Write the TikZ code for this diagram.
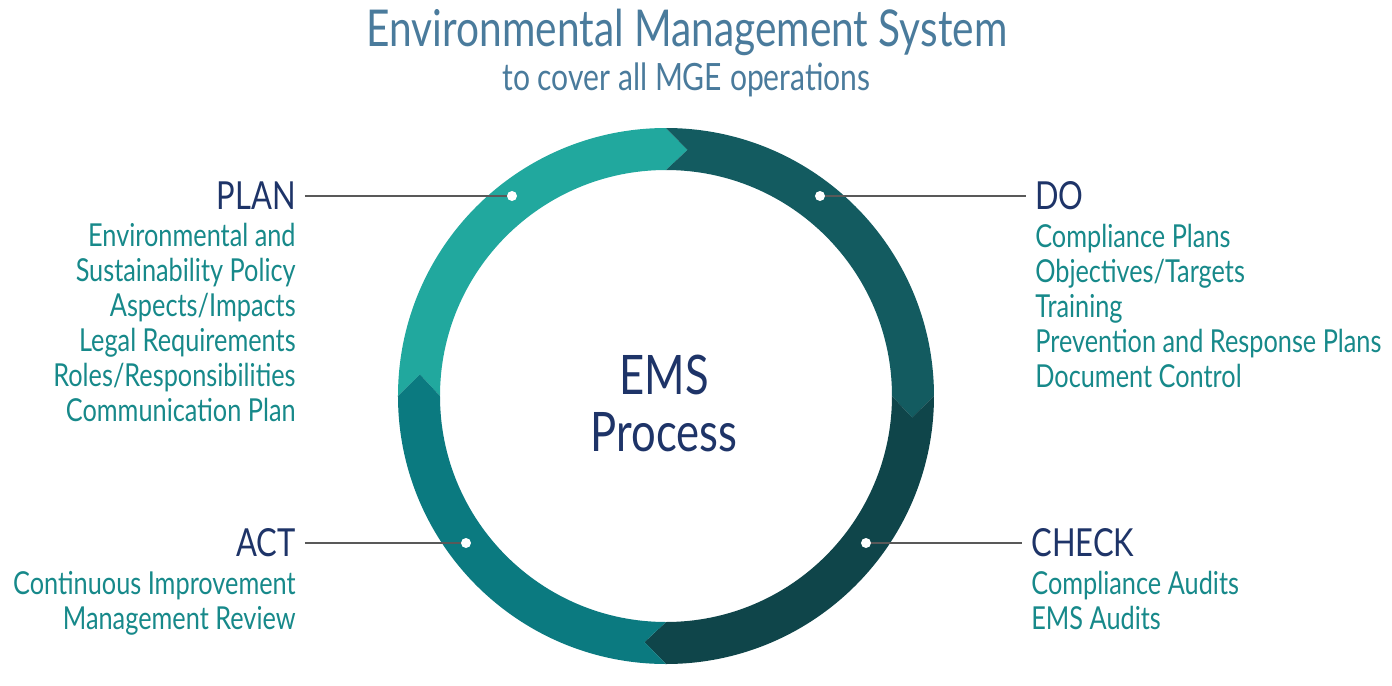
\documentclass[tikz,border=0pt]{standalone}
\usepackage{fontspec}
\setmainfont[FakeStretch=0.8]{Lato}
\usepackage{tikz}
\usetikzlibrary{positioning, calc}
\definecolor{ringplan}{RGB}{33,168,158}
\definecolor{ringdo}{RGB}{19,91,96}
\definecolor{ringcheck}{RGB}{15,69,74}
\definecolor{ringact}{RGB}{11,122,128}
\definecolor{titleblue}{RGB}{74,123,156}
\definecolor{navyems}{RGB}{30,52,104}
\definecolor{tealtext}{RGB}{23,137,138}
\def\rOut{5.36}
\def\rIn{4.52}
\def\rMid{4.94}

\begin{document}
\begin{tikzpicture}[
        head/.style={font=\fontsize{22}{24}\selectfont, text=navyems,
                     inner xsep=0.18cm, inner ysep=0pt},
        items/.style={font=\fontsize{18}{19.92}\selectfont, text=tealtext,
                      inner xsep=0.18cm, inner ysep=0pt},
        dot/.style={circle, fill=white, inner sep=0pt, minimum size=0.2cm},
        leader/.style={draw=black!65, line width=0.6pt}]

      \useasboundingbox (-13.32,-5.78) rectangle (14.52,7.92);

      % title
      \node[font=\fontsize{28.9}{30}\selectfont, text=titleblue, anchor=base]
            (title) at (0.42,7.0) {Environmental Management System};
      \node[font=\fontsize{21.4}{22}\selectfont, text=titleblue, anchor=base]
            (subtitle) at (0.41,6.12) {to cover all MGE operations};

      % ring, four arrows
      \fill[ringplan]  (180:\rOut) arc (180:90:\rOut) -- (85:\rMid)
                       -- (90:\rIn) arc (90:180:\rIn) -- (175:\rMid) -- cycle;
      \fill[ringdo]    (90:\rOut) arc (90:0:\rOut) -- (-5:\rMid)
                       -- (0:\rIn) arc (0:90:\rIn) -- (85:\rMid) -- cycle;
      \fill[ringcheck] (0:\rOut) arc (0:-90:\rOut) -- (-95:\rMid)
                       -- (-90:\rIn) arc (-90:0:\rIn) -- (-5:\rMid) -- cycle;
      \fill[ringact]   (-90:\rOut) arc (-90:-180:\rOut) -- (-185:\rMid)
                       -- (-180:\rIn) arc (-180:-90:\rIn) -- (-95:\rMid) -- cycle;

      \node[font=\fontsize{31}{32.4}\selectfont, text=navyems, align=center]
            (ems) at (-0.04,-0.15) {EMS\\Process};

      \node[dot] (plandot)  at (-3.08,4.0) {};
      \node[dot] (dodot)    at (3.08,4.0) {};
      \node[dot] (checkdot) at (4.0,-2.94) {};
      \node[dot] (actdot)   at (-4.0,-2.94) {};

      % headings and lists
      \node[head, anchor=east] (plan) at (-7.22,4.0) {PLAN};
      \node[items, align=right, below left=0.26cm and 0cm of plan.south east]
            (planitems) {Environmental and\\Sustainability Policy\\Aspects/Impacts\\
                         Legal Requirements\\Roles/Responsibilities\\Communication Plan};

      \node[head, anchor=west] (do) at (7.20,4.0) {DO};
      \node[items, align=left, below right=0.26cm and 0cm of do.south west]
            (doitems) {Compliance Plans\\Objectives/Targets\\Training\\
                       Prevention and Response Plans\\Document Control};

      \node[head, anchor=west] (check) at (7.12,-2.94) {CHECK};
      \node[items, align=left, below right=0.26cm and 0cm of check.south west]
            (checkitems) {Compliance Audits\\EMS Audits};

      \node[head, anchor=east] (act) at (-7.22,-2.94) {ACT};
      \node[items, align=right, below left=0.26cm and 0cm of act.south east]
            (actitems) {Continuous Improvement\\Management Review};

      \draw[leader] (plan.east)  -- (plandot);
      \draw[leader] (do.west)    -- (dodot);
      \draw[leader] (check.west) -- (checkdot);
      \draw[leader] (act.east)   -- (actdot);
    \end{tikzpicture}
\end{document}
